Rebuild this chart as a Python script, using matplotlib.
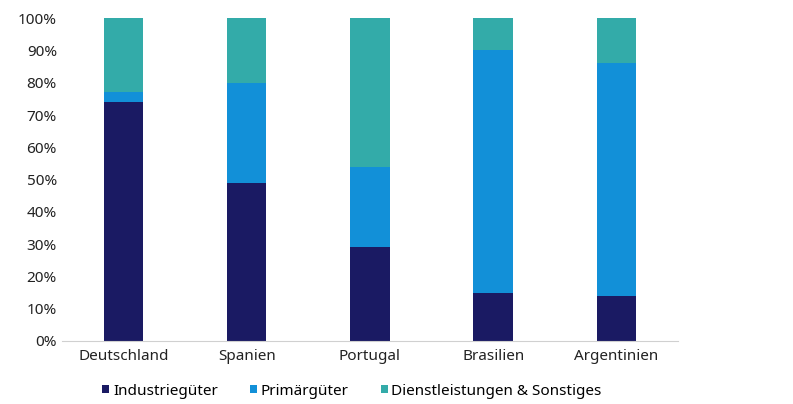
import numpy as np
import matplotlib.pyplot as plt
from matplotlib.ticker import PercentFormatter

plt.rcParams['font.family'] = ['Noto Sans', 'DejaVu Sans']

countries = ['Deutschland', 'Spanien', 'Portugal', 'Brasilien', 'Argentinien']
industrie = [74, 49, 29, 15, 14]
primaer = [3, 31, 25, 75, 72]
dienst = [23, 20, 46, 10, 14]

labels = ['Industriegüter', 'Primärgüter', 'Dienstleistungen & Sonstiges']
colors = ['#1a1a63', '#1290d8', '#33aba9']

fig = plt.figure(figsize=(7.93, 4.04), dpi=100)
ax = fig.add_axes([0.078, 0.156, 0.777, 0.799])

x = np.arange(len(countries))
w = 0.32
bottom = np.zeros(len(countries))
for vals, lab, col in zip([industrie, primaer, dienst], labels, colors):
    ax.bar(x, vals, w, bottom=bottom, color=col, label=lab)
    bottom = bottom + np.array(vals)

ax.set_xlim(-0.5, 4.5)
ax.set_ylim(0, 100)
ax.set_yticks(np.arange(0, 101, 10))
ax.yaxis.set_major_formatter(PercentFormatter(decimals=0))
ax.set_xticks(x)
ax.set_xticklabels(countries)
ax.tick_params(length=0, labelsize=11, colors='#222222')
ax.tick_params(axis='x', pad=6)
for s in ['top', 'right', 'left']:
    ax.spines[s].set_visible(False)
ax.spines['bottom'].set_color('#d0d0d0')

fig.legend(loc='center', bbox_to_anchor=(0.444, 0.032), ncol=3, frameon=False,
           fontsize=11, handlelength=0.45, handleheight=0.45, handletextpad=0.25,
           columnspacing=2.1)

plt.savefig('out.png', dpi=100)
